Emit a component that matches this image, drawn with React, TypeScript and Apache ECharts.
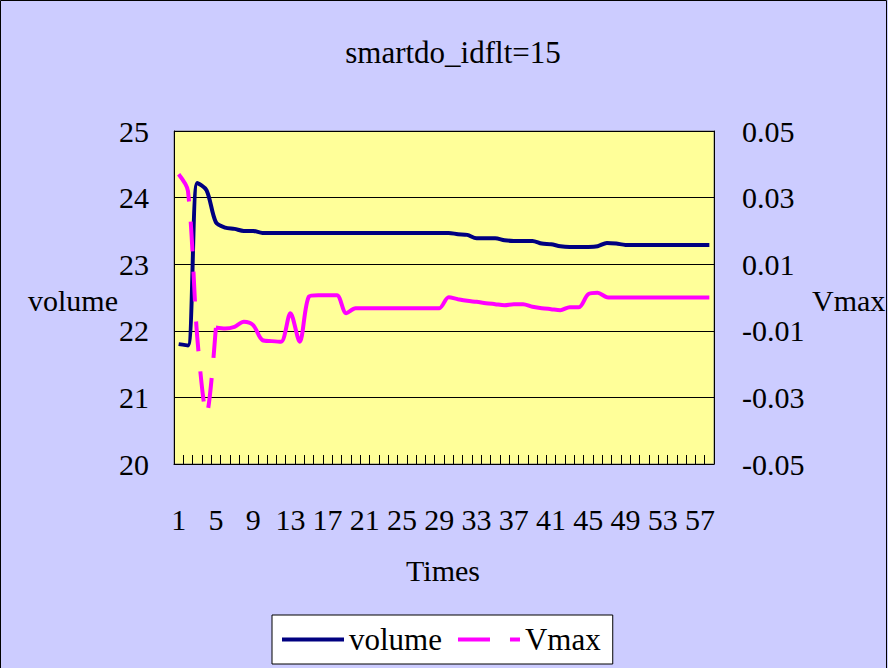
import React, { useEffect, useRef } from "react";
import * as echarts from "echarts";

const times: string[] = Array.from({ length: 58 }, (_, i) => String(i + 1));

const volume: number[] = [
  21.8, 21.78, 24.22, 24.11, 23.63, 23.55, 23.53, 23.5, 23.5, 23.47,
  23.47, 23.47, 23.47, 23.47, 23.47, 23.47, 23.47, 23.47, 23.47, 23.47,
  23.47, 23.47, 23.47, 23.47, 23.47, 23.47, 23.47, 23.47, 23.47, 23.47,
  23.45, 23.44, 23.39, 23.39, 23.39, 23.36, 23.35, 23.35, 23.35, 23.31,
  23.3, 23.27, 23.26, 23.26, 23.26, 23.27, 23.32, 23.31, 23.29, 23.29,
  23.29, 23.29, 23.29, 23.29, 23.29, 23.29, 23.29, 23.29,
];

const vmax: number[] = [
  0.037, 0.032, -0.012, -0.035, -0.009, -0.0093, -0.0088, -0.0073, -0.0083, -0.0128,
  -0.0131, -0.0133, -0.0047, -0.0133, 0.0003, 0.0007, 0.0007, 0.0007, -0.0047, -0.0032,
  -0.0032, -0.0032, -0.0032, -0.0032, -0.0032, -0.0032, -0.0032, -0.0032, -0.0032, 0.0001,
  -0.0005, -0.001, -0.0013, -0.0017, -0.002, -0.0023, -0.002, -0.002, -0.0028, -0.0032,
  -0.0035, -0.0038, -0.0029, -0.0029, 0.001, 0.0014, 0.0001, 0.0, 0.0, 0.0,
  0.0, 0.0, 0.0, 0.0, 0.0, 0.0, 0.0, 0.0,
];

const leftTicks = { min: 20, max: 25, interval: 1 };
const rightTickValues: number[] = [-0.05, -0.03, -0.01, 0.01, 0.03, 0.05];

const FONT = "Liberation Serif";
const DASH_END = 4; // last index drawn with the long-dash style

export default function App() {
  const ref = useRef<HTMLDivElement>(null);

  useEffect(() => {
    if (!ref.current) return;
    const chart = echarts.init(ref.current, undefined, { renderer: "svg" });

    const vmaxDashed = vmax.map((v, i) => (i <= DASH_END ? v : null));
    const vmaxSolid = vmax.map((v, i) => (i >= DASH_END ? v : null));

    const textEl = (text: string, x: number, y: number, align: string, size = 30) => ({
      type: "text",
      x,
      y,
      silent: true,
      style: {
        text,
        fontFamily: FONT,
        fontSize: size,
        fill: "#000",
        align,
        verticalAlign: "middle",
      },
    });

    chart.setOption({
      animation: false,
      backgroundColor: "#CCCCFF",
      grid: {
        left: 174,
        right: 174,
        top: 131,
        bottom: 204,
        show: true,
        backgroundColor: "#FFFF99",
        borderColor: "#808080",
        borderWidth: 1,
      },
      legend: {
        left: 272,
        top: 615,
        backgroundColor: "#FFFFFF",
        borderColor: "#000000",
        borderWidth: 1,
        borderRadius: 0,
        padding: [9, 12, 9, 10],
        itemGap: 16,
        itemWidth: 62,
        itemHeight: 4,
        textStyle: { fontFamily: FONT, fontSize: 31, color: "#000" },
        data: [
          { name: "volume", icon: "path://M0,0h62v4h-62z", itemStyle: { color: "#000080" } },
          {
            name: "Vmax",
            icon: "path://M0,0h32v4h-32z M52,0h10v4h-10z",
            itemStyle: { color: "#FF00FF" },
          },
        ],
      },
      xAxis: {
        type: "category",
        data: times,
        boundaryGap: true,
        axisLine: { onZero: false, lineStyle: { color: "#000", width: 1 } },
        axisTick: { show: true, interval: 0, inside: true, length: 9, lineStyle: { color: "#000" } },
        axisLabel: { interval: 3, fontFamily: FONT, fontSize: 30, color: "#000", margin: 40 },
        splitLine: { show: false },
      },
      yAxis: [
        {
          type: "value",
          min: leftTicks.min,
          max: leftTicks.max,
          interval: leftTicks.interval,
          position: "left",
          axisLine: { show: true, onZero: false, lineStyle: { color: "#000" } },
          axisTick: { show: false },
          axisLabel: { fontFamily: FONT, fontSize: 30, color: "#000", margin: 25 },
          splitLine: { show: true, lineStyle: { color: "#000", width: 1 } },
        },
        {
          type: "value",
          min: -0.05,
          max: 0.05,
          position: "right",
          axisLine: { show: true, onZero: false, lineStyle: { color: "#000" } },
          axisTick: { show: false },
          axisLabel: {
            customValues: rightTickValues,
            fontFamily: FONT,
            fontSize: 30,
            color: "#000",
            margin: 28,
            formatter: (v: number) => v.toFixed(2),
          },
          splitLine: { show: false },
        },
      ],
      series: [
        {
          name: "volume",
          type: "line",
          data: volume,
          yAxisIndex: 0,
          symbol: "none",
          showSymbol: false,
          smooth: 0.3,
          lineStyle: { color: "#000080", width: 4 },
          itemStyle: { color: "#000080" },
        },
        {
          name: "Vmax",
          type: "line",
          data: vmaxDashed,
          yAxisIndex: 1,
          symbol: "none",
          showSymbol: false,
          smooth: 0.3,
          connectNulls: false,
          lineStyle: { color: "#FF00FF", width: 4, type: [30, 20] },
          itemStyle: { color: "#FF00FF" },
        },
        {
          name: "Vmax",
          type: "line",
          data: vmaxSolid,
          yAxisIndex: 1,
          symbol: "none",
          showSymbol: false,
          smooth: 0.3,
          connectNulls: false,
          lineStyle: { color: "#FF00FF", width: 4, type: "solid" },
          itemStyle: { color: "#FF00FF" },
        },
      ],
      graphic: [
        {
          type: "rect",
          silent: true,
          shape: { x: 0.5, y: 0.5, width: 886, height: 700 },
          style: { fill: "none", stroke: "#000", lineWidth: 1 },
        },
        textEl("smartdo_idflt=15", 453, 52, "center", 31),
        textEl("volume", 28, 300, "left"),
        textEl("Vmax", 812, 300, "left"),
        textEl("Times", 443, 570, "center"),
      ],
    });

    return () => {
      chart.dispose();
    };
  }, []);

  return (
    <div
      ref={ref}
      style={{ position: "fixed", left: 0, top: 0, width: 888, height: 668 }}
    />
  );
}
